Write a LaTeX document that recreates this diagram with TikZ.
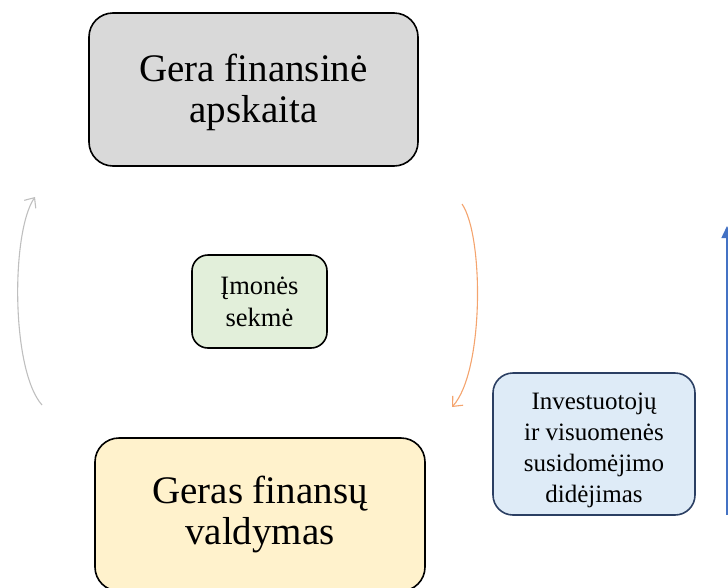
\documentclass[tikz,border=0pt]{standalone}
\usepackage{fontspec}
\setmainfont{Liberation Serif}
\usetikzlibrary{arrows.meta}

\definecolor{boxgray}{HTML}{D9D9D9}
\definecolor{boxyellow}{HTML}{FFF2CC}
\definecolor{boxgreen}{HTML}{E2EFDA}
\definecolor{boxblue}{HTML}{DEEBF7}
\definecolor{navyline}{HTML}{2B3F63}
\definecolor{arcgray}{HTML}{BFBFBF}
\definecolor{arcorange}{HTML}{F4A46E}
\definecolor{arrowblue}{HTML}{4472C4}

\tikzset{
  card/.style={draw=black, line width=1.6pt, rounded corners=24pt, align=center,
    inner sep=0pt},
  bigcard/.style={card, minimum width=329pt, minimum height=153pt},
  bigtext/.style={font=\fontsize{39}{41}\selectfont, align=center, inner sep=0pt},
  smallcard/.style={card, rounded corners=16pt},
  cyclearc/.style={line width=1.1pt, -{Straight Barb[length=8pt,width=14pt]}},
}

\begin{document}
\begin{tikzpicture}[x=1pt, y=-1pt]
  \useasboundingbox (0,0) rectangle (728,587);
  \clip (0,0) rectangle (728,587);

  % the two main boxes and their captions
  \node[bigcard, fill=boxgray] (acc) at (253.5,89.5) {};
  \node[bigtext] (acctext) at ([yshift=-3pt]acc.center) {Gera finansinė\\apskaita};
  \node[bigcard, fill=boxyellow, minimum width=330pt] (mgmt) at (260,514.5) {};
  \node[bigtext] (mgmttext) at (mgmt.center) {Geras finansų\\valdymas};

  % centre box
  \node[smallcard, fill=boxgreen, minimum width=135pt, minimum height=93pt,
        font=\fontsize{26.5}{32}\selectfont] (succ) at (259.5,301.5) {Įmonės\\sekmė};

  % side box and its caption
  \node[smallcard, fill=boxblue, draw=navyline, rounded corners=20pt,
        minimum width=202pt, minimum height=142pt] (inv) at (594,444) {};
  \node[font=\fontsize{25}{31}\selectfont, align=center, inner sep=0pt]
        (invtext) at ([yshift=-6pt]inv.center)
        {Investuotojų\\ir visuomenės\\susidomėjimo\\didėjimas};

  % ends of the cycle arcs
  \coordinate (ls) at (42,405);
  \coordinate (le) at (35,197);
  \coordinate (rs) at (462,204);
  \coordinate (re) at (452,407);
  \coordinate (bs) at (727,515);
  \coordinate (be) at (727,226);

  % cycle arcs
  \draw[cyclearc, draw=arcgray] (ls) .. controls (11,370) and (11,232) .. (le);
  \draw[cyclearc, draw=arcorange] (rs) .. controls (484,236) and (484,372) .. (re);

  % rising arrow at the right edge
  \draw[line width=1.6pt, draw=arrowblue, -{Triangle[length=12pt,width=11pt]}] (bs) -- (be);
\end{tikzpicture}
\end{document}
